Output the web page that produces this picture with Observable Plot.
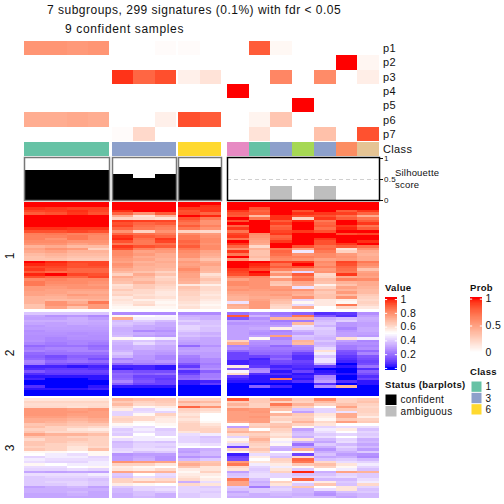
<!DOCTYPE html>
<html><head><meta charset="utf-8">
<style>
html,body{margin:0;padding:0;background:#fff}
#page{position:relative;width:504px;height:504px;overflow:hidden;font-family:"Liberation Sans",Arial,sans-serif;color:#111}
.lb{position:absolute;white-space:pre;line-height:1}
</style>
<script src="https://cdn.jsdelivr.net/npm/d3@7"></script>
<script src="https://cdn.jsdelivr.net/npm/@observablehq/plot@0.6"></script>
</head><body><div id="page"></div>
<script>
// ---- data ----
const titleLines = ["7 subgroups, 299 signatures (0.1%) with fdr < 0.05", "9 confident samples"];
const probNames = ["p1","p2","p3","p4","p5","p6","p7"];
const probs = [
 [.55,.55,.53,.55, 0,0,.02, .02,0, 0,.8,.04,0,0,0,0],
 [0,0,0,0, 0,0,0, 0,0, 0,0,0,0,0,1,.05],
 [0,0,0,0, .93,.76,.85, .08,.15, 0,0,.62,0,.6,0,.09],
 [0,0,0,0, 0,0,0, 0,0, 1,0,0,0,0,0,0],
 [0,0,0,0, 0,0,0, 0,0, 0,0,0,1,0,0,0],
 [.43,.43,.45,.43, 0,0,.08, .85,.8, 0,.06,.3,0,0,0,0],
 [0,0,0,0, .02,.2,0, 0,0, 0,.15,0,0,.33,0,.84]
];
const classes = ["1","1","1","1","3","3","3","6","6","4","1","3","5","3","2","7"];
const classKeys = ["1","2","3","4","5","6","7"];
const classColors = ["#66C2A5","#FC8D62","#8DA0CB","#E78AC3","#A6D854","#FFD92F","#E5C494"];
const silhouette = [.71,.71,.71,.71, .62,.53,.62, .78,.78, 0,.01,.33,0,.33,0,0];
const status = ["confident","confident","confident","confident","confident","confident","confident","confident","confident","ambiguous","ambiguous","ambiguous","ambiguous","ambiguous","ambiguous","ambiguous"];
const section1 = [
[100,100,100,100,100,100,100,100,100,100,100,100,100,100,100,100],
[100,100,100,100,100,100,100,100,97,100,100,100,100,100,100,100],
[97,96,95,95,100,100,100,96,96,100,92,100,100,100,100,100],
[94,95,97,94,97,100,100,92,96,96,88,100,92,100,90,96],
[90,92,96,92,88,78,90,93,88,92,90,100,97,96,95,88],
[100,100,100,100,72,58,70,100,98,90,68,97,92,92,86,72],
[100,100,100,100,62,60,58,92,84,100,85,97,62,96,90,85],
[100,100,100,100,96,95,94,88,78,92,100,90,98,84,100,90],
[100,100,100,100,92,88,90,85,78,100,100,95,100,88,100,96],
[100,100,100,100,94,86,84,90,82,88,100,88,100,90,96,85],
[97,97,96,96,88,84,82,84,78,96,100,90,100,86,98,90],
[92,92,94,92,78,62,78,62,60,85,100,94,96,92,100,100],
[83,84,82,82,88,86,84,80,76,94,80,96,100,100,92,94],
[82,82,84,80,96,90,88,84,78,96,78,88,100,100,100,100],
[82,78,84,80,98,86,96,84,80,85,76,90,100,96,100,100],
[80,80,78,78,92,84,94,88,80,100,74,96,100,92,100,97],
[78,78,74,76,84,84,86,86,78,96,72,100,100,92,96,100],
[70,72,68,68,96,92,90,90,80,88,60,100,92,86,90,86],
[74,78,76,62,92,82,78,84,80,78,70,84,74,88,58,78],
[72,74,70,70,80,74,76,80,74,96,66,88,45,84,62,72],
[68,70,68,68,80,76,72,78,72,84,66,86,78,80,76,70],
[66,68,66,66,78,72,72,78,70,100,68,82,82,80,78,72],
[66,66,64,64,76,74,70,72,66,78,64,80,78,74,76,72],
[100,98,94,94,74,70,72,76,72,100,100,94,96,80,94,84],
[98,96,92,94,78,72,70,74,74,100,98,86,100,78,92,80],
[94,94,92,92,76,70,70,76,70,100,96,90,92,82,88,76],
[96,92,88,88,72,70,68,80,70,96,92,82,78,76,86,66],
[90,86,88,88,68,66,62,76,68,94,100,68,42,78,84,74],
[98,100,94,92,62,72,66,74,58,92,98,78,90,60,96,76],
[92,88,88,94,72,68,60,74,62,82,80,60,82,62,72,74],
[80,82,80,80,68,66,62,72,66,74,78,76,86,68,82,80],
[84,80,80,78,66,70,64,70,62,80,78,66,74,66,70,72],
[84,78,78,76,58,64,62,56,54,80,78,64,72,54,66,72],
[76,76,78,78,60,64,60,66,60,76,78,76,44,62,74,70],
[76,74,74,74,64,60,58,64,60,78,76,78,78,68,70,68],
[74,74,72,72,60,60,56,62,58,74,74,74,72,64,76,68],
[74,72,76,74,62,58,56,62,56,72,74,76,70,66,68,64],
[70,70,72,72,56,60,58,60,58,70,72,72,78,66,78,62],
[70,68,68,70,58,54,54,60,56,70,74,68,42,56,54,60],
[70,78,72,84,56,58,52,58,54,44,76,66,52,56,52,62],
[66,78,76,76,54,60,54,56,52,72,76,62,42,56,84,60],
[66,74,66,76,52,52,52,58,54,70,76,60,72,50,60,56]
];
const section2 = [
[38,38,38,38,25,25,25,25,25,20,26,20,16,6,8,26],
[31,27,28,25,52,50,48,33,33,90,34,23,85,14,6,30],
[30,30,33,29,72,46,46,35,33,14,26,70,70,33,36,33],
[33,33,33,32,36,40,36,40,37,31,30,22,22,36,40,32],
[31,30,32,31,38,36,32,36,37,27,28,26,68,38,28,30],
[28,30,29,30,36,32,32,41,39,30,30,30,44,34,28,30],
[29,29,29,29,33,32,30,41,37,30,32,54,42,40,24,32],
[26,28,28,28,33,25,27,39,37,30,28,24,34,38,28,32],
[27,27,26,27,34,32,30,35,33,30,26,26,30,38,30,30],
[26,26,27,26,36,30,28,37,35,30,30,75,38,36,30,28],
[26,24,26,26,52,50,46,33,31,30,52,24,36,34,58,46],
[27,24,24,24,36,38,34,31,31,62,28,28,70,38,30,24],
[24,22,24,22,34,42,36,29,31,72,26,28,68,34,26,26],
[18,20,20,18,32,34,32,18,27,24,24,18,24,36,22,24],
[22,24,24,20,32,34,32,29,31,26,22,22,22,42,22,26],
[24,22,24,24,34,30,30,31,31,18,20,20,18,58,14,18],
[18,20,20,20,38,30,28,29,29,10,18,18,10,46,12,24],
[16,12,16,16,34,28,24,23,29,10,10,14,6,38,8,14],
[18,14,18,12,24,28,24,21,25,10,4,18,6,44,6,12],
[24,18,20,18,28,26,28,21,25,4,6,12,10,44,4,10],
[22,14,12,12,18,22,22,14,22,4,6,10,8,32,0,12],
[4,4,2,4,4,4,2,8,24,55,8,4,6,8,2,20],
[6,8,8,6,2,4,2,20,27,14,24,8,4,0,0,6],
[14,10,10,10,14,12,12,6,16,48,26,2,10,2,0,16],
[6,8,8,8,18,16,18,10,22,60,6,6,2,4,2,12],
[2,2,2,2,16,10,10,16,22,8,2,2,4,24,0,6],
[4,0,0,2,18,12,8,18,24,4,2,85,2,26,0,10],
[0,0,0,0,24,14,10,2,4,2,2,2,6,30,6,2],
[0,0,0,0,16,10,10,2,8,0,0,0,0,6,0,2],
[6,0,0,2,2,2,2,0,0,0,16,4,0,26,70,0],
[2,2,2,4,0,0,0,0,0,0,0,0,0,0,0,0],
[0,0,0,0,0,0,0,0,0,0,0,0,0,0,0,0],
[0,0,0,0,0,0,0,0,0,0,0,0,0,0,0,0]
];
const section3 = [
[57,57,57,57,70,67,65,62,62,90,64,76,64,80,62,64],
[61,61,61,61,64,62,64,70,68,64,64,62,62,68,62,66],
[59,59,59,59,68,60,62,64,62,70,62,84,70,62,66,62],
[60,60,58,60,60,52,55,88,78,64,62,70,62,50,74,60],
[77,77,75,77,55,41,48,62,60,78,76,66,38,41,64,62],
[77,77,77,75,41,43,41,60,57,75,77,52,30,41,44,62],
[77,77,75,75,41,52,62,57,50,75,75,70,64,57,72,60],
[75,75,73,75,60,60,57,60,50,75,77,60,62,55,72,55],
[72,72,70,72,62,60,55,57,50,75,75,62,64,52,64,62],
[72,70,67,70,60,52,55,60,52,72,75,57,70,60,75,64],
[65,67,65,65,52,50,52,62,57,50,62,65,62,57,50,50],
[67,62,62,60,46,43,50,62,60,30,64,67,52,41,43,43],
[62,62,57,55,39,46,39,62,62,65,50,62,30,46,55,37],
[65,60,60,60,41,43,41,57,62,70,67,60,35,43,50,41],
[74,70,70,67,39,50,41,43,46,60,62,57,37,39,41,39],
[65,65,62,62,52,46,50,41,37,41,65,60,33,43,50,41],
[60,65,65,62,43,46,46,41,39,52,70,52,57,35,41,33],
[65,65,62,62,35,39,37,41,39,57,65,46,33,31,43,35],
[65,62,60,62,37,41,41,46,43,41,62,52,20,39,35,31],
[62,62,57,60,37,41,39,50,50,10,60,35,31,33,41,35],
[65,62,57,67,41,43,43,31,33,62,65,33,70,27,37,29],
[52,52,50,52,43,37,39,29,35,52,60,50,52,33,33,39],
[50,46,43,52,27,29,29,33,35,3,43,41,10,37,29,27],
[41,46,46,41,29,31,27,27,29,10,55,37,60,31,33,25],
[46,43,43,43,29,33,27,35,39,12,50,62,88,37,39,35],
[43,41,41,46,78,76,74,67,65,76,57,60,84,60,43,41],
[52,50,46,46,62,62,57,72,67,84,46,55,65,67,57,46],
[43,43,50,52,55,52,50,65,57,60,41,46,52,62,52,41],
[41,41,43,41,57,55,60,55,57,57,39,57,39,50,46,37],
[31,30,31,30,74,70,70,52,62,30,41,62,98,33,74,70],
[43,43,43,46,39,50,43,55,55,37,43,41,37,37,41,39],
[39,41,41,41,37,43,41,57,52,39,43,41,41,41,43,39],
[39,39,39,37,62,57,60,60,55,84,37,50,88,35,35,43],
[39,41,41,39,62,67,65,33,43,74,33,62,46,55,39,46],
[39,39,41,39,55,52,50,60,57,74,35,57,39,65,37,60],
[30,33,35,30,39,41,41,41,39,39,22,39,65,50,57,41],
[33,33,33,33,35,41,43,41,41,37,39,41,35,43,57,37],
[33,33,35,31,35,37,39,41,39,31,39,37,35,29,37,39],
[31,31,33,31,33,37,33,39,41,35,33,35,33,27,33,35],
[31,31,31,31,33,35,33,39,41,33,33,33,35,35,31,35]
];
const valueTicks = [0,.2,.4,.6,.8,1];
const probTicks = [0,.5,1];
const silhouetteTicks = [0,.5,1];
const statusNames = ["confident","ambiguous"];
const statusColors = ["#000000","#BEBEBE"];
const legendClasses = ["1","3","6"];

// ---- layout ----
const groups = [
 {from:0,  to:4,  x0:24,  x1:109},
 {from:4,  to:7,  x0:112, x1:176},
 {from:7,  to:9,  x0:178, x1:221},
 {from:9,  to:16, x0:227, x1:379}
];
const font = '"Liberation Sans",Arial,sans-serif';
const page = document.getElementById("page");
const valueColor = {type:"linear",domain:[0,.5,1],range:["#0000ff","#ffffff","#ff0000"],interpolate:d3.interpolateLab,clamp:true};
const probColor  = {type:"linear",domain:[0,1],range:["#ffffff","#ff0000"],interpolate:d3.interpolateLab,clamp:true};
const classColor = {type:"ordinal",domain:classKeys,range:classColors};

function panel(left,top,width,height,opts){
  const p = Plot.plot({width,height,marginLeft:0,marginTop:0,marginBottom:0,marginRight:0,
    x:{axis:null},y:{axis:null},
    style:{position:"absolute",left:left+"px",top:top+"px",background:"transparent",overflow:"visible",fontFamily:font,fontSize:"10px",maxWidth:"none",letterSpacing:"0.35px"},
    ...opts});
  page.append(p);
  return p;
}
function label(text,x,y,o={}){
  const d=document.createElement("div");
  d.className="lb"; d.textContent=text;
  d.style.left=x+"px"; d.style.top=y+"px";
  d.style.fontSize=(o.size||10)+"px";
  if(o.bold) d.style.fontWeight="bold";
  if(o.spacing) d.style.letterSpacing=o.spacing+"px";
  d.style.transform=o.rotate?"translate(-50%,-50%) rotate(-90deg)":"translateY(-50%)";
  page.append(d);
}
function cellsOf(matrix,g,rowNames){
  const out=[];
  matrix.forEach((row,r)=>{for(let c=g.from;c<g.to;c++) out.push({col:c,row:rowNames?rowNames[r]:r,v:row[c]/(rowNames?1:100)});});
  return out;
}
const xBand = g => ({domain:d3.range(g.from,g.to),padding:0,round:false,axis:null});

// ---- probabilities, class bar, silhouette ----
groups.forEach((g,i)=>{
  const last = i===3, w=g.x1-g.x0;
  panel(g.x0,41,w,100,{
    marginRight:last?30:0,width:w+(last?30:0),
    x:{...xBand(g)},
    y:{domain:probNames,padding:0,round:false,axis:null},
    color:probColor,
    marks:[
      Plot.cell(cellsOf(probs,g,probNames),{x:"col",y:"row",fill:"v",shapeRendering:"crispEdges"}),
      ...(last?[Plot.axisY({anchor:"right",tickSize:0,tickPadding:3.5,fontSize:11,textAnchor:"start",label:null})]:[])
    ]});
  const cols=d3.range(g.from,g.to);
  panel(g.x0,142,w,14,{
    marginRight:last?40:0,width:w+(last?40:0),
    x:{...xBand(g)},
    y:{domain:["Class"],padding:0,round:false,axis:null},
    color:classColor,
    marks:[
      Plot.cell(cols,{x:d=>d,y:()=>"Class",fill:d=>classes[d],shapeRendering:"crispEdges"}),
      ...(last?[Plot.axisY({anchor:"right",tickSize:0,tickPadding:3.5,fontSize:11,textAnchor:"start",label:null})]:[])
    ]});
  panel(g.x0,156.5,w,43,{
    marginRight:last?20:0,width:w+(last?20:0),
    x:{...xBand(g)},
    y:{domain:[0,1],range:[43,1],axis:null},
    color:{type:"ordinal",domain:statusNames,range:statusColors},
    marks:[
      Plot.barY(cols,{x:d=>d,y:d=>silhouette[d],fill:d=>status[d],shapeRendering:"crispEdges"}),
      ...(last?[Plot.ruleY([.5],{stroke:"#d0d0d0",strokeDasharray:"4 3"})]:[]),
      Plot.frame({stroke:last?"#000":"#777",strokeWidth:1.5}),
      ...(last?[Plot.axisY({anchor:"right",ticks:silhouetteTicks,tickSize:3,tickPadding:1.5,fontSize:8,textAnchor:"start",label:null,tickFormat:d=>String(d)})]:[])
    ]});
});

// ---- heat maps ----
[[section1,202,107],[section2,312,83.5],[section3,398,100]].forEach(([m,top,h])=>{
  groups.forEach(g=>{
    panel(g.x0,top,g.x1-g.x0,h,{
      x:{...xBand(g)},
      y:{domain:d3.range(m.length),padding:0,round:false,axis:null},
      color:valueColor,
      marks:[Plot.cell(cellsOf(m,g),{x:"col",y:"row",fill:"v",shapeRendering:"crispEdges"})]
    });
  });
});

// ---- legends ----
const rampSteps = d3.range(-.03,1.03,.01);
function ramp(left,top,height,colorOpt,ticks,wide){
  panel(left,top,12,height,{
    width:12+wide,marginRight:wide,
    x:{type:"linear",domain:[0,1],range:[0,12],axis:null},
    y:{type:"linear",domain:[-.03,1.03],range:[height,0],axis:null},
    color:colorOpt,
    marks:[
      Plot.rect(rampSteps,{x1:0,x2:1,y1:d=>d,y2:d=>d+.011,fill:d=>d,shapeRendering:"crispEdges"}),
      Plot.ruleY(ticks,{x1:0,x2:.18,stroke:"#fff",strokeWidth:1}),
      Plot.ruleY(ticks,{x1:.82,x2:1,stroke:"#fff",strokeWidth:1}),
      Plot.axisY({anchor:"right",ticks,tickSize:0,tickPadding:3,fontSize:10.5,textAnchor:"start",label:null,tickFormat:d=>String(d)})
    ]});
}
ramp(385,297,73,valueColor,valueTicks,30);
ramp(470,297,57,probColor,probTicks,30);
panel(471,381,11,34,{
  width:11+20,marginRight:20,
  x:{domain:["k"],padding:0,round:false,axis:null},
  y:{domain:legendClasses,padding:0,round:false,axis:null},
  color:classColor,
  marks:[
    Plot.cell(legendClasses,{x:()=>"k",y:d=>d,fill:d=>d,inset:.5}),
    Plot.axisY({anchor:"right",tickSize:0,tickPadding:3,fontSize:10,textAnchor:"start",label:null})
  ]});
panel(385,394,12,23,{
  width:12+60,marginRight:60,
  x:{domain:["k"],padding:0,round:false,axis:null},
  y:{domain:statusNames,padding:0,round:false,axis:null},
  color:{type:"ordinal",domain:statusNames,range:statusColors},
  marks:[
    Plot.cell(statusNames,{x:()=>"k",y:d=>d,fill:d=>d,inset:.5}),
    Plot.axisY({anchor:"right",tickSize:0,tickPadding:3,fontSize:10,textAnchor:"start",label:null})
  ]});

// ---- text ----
label(titleLines[0],47,10,{size:12,spacing:.5});
label(titleLines[1],65,29,{size:12,spacing:.65});
label("Silhouette",395,172.5,{size:9.5,spacing:.2});
label("score",395,185,{size:9.5,spacing:.2});
label("Value",385,288,{size:9.5,bold:true,spacing:.3});
label("Prob",470,288,{size:9.5,bold:true,spacing:.3});
label("Class",470,372,{size:9.5,bold:true,spacing:.3});
label("Status (barplots)",385,385,{size:9.5,bold:true,spacing:.3});
label("1",10,256,{size:12,rotate:true});
label("2",10,353,{size:12,rotate:true});
label("3",10,448,{size:12,rotate:true});
</script>
</body></html>
